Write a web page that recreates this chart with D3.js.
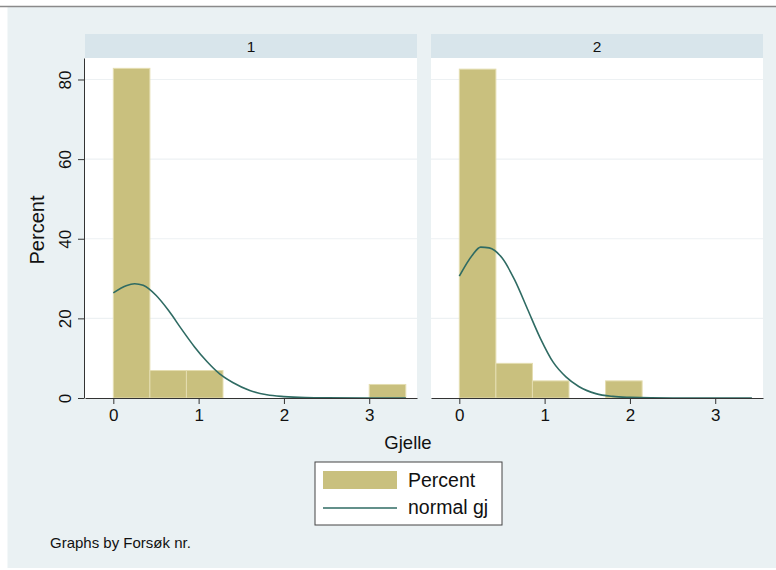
<!DOCTYPE html>
<html>
<head>
<meta charset="utf-8">
<script src="https://cdn.jsdelivr.net/npm/d3@7"></script>
<style>
  body { margin: 0; background: #fff; }
  svg { display: block; font-family: "Liberation Sans", Arial, sans-serif; }
</style>
</head>
<body>
<div id="chart"></div>
<script>
// values
var groups = ["1", "2"];
var binWidth = 0.4286;
var binStart = [0, 0.4286, 0.8571, 1.2857, 1.7143, 2.1429, 2.5714, 3.0];
var pct1 = [82.8, 6.9, 6.9, 0, 0, 0, 0, 3.4];
var pct2 = [82.6, 8.7, 4.3, 0, 4.3, 0, 0, 0];
var curveX = [0, 0.15, 0.25, 0.35, 0.5, 0.65, 0.8, 0.95, 1.1, 1.25, 1.4, 1.6, 1.8, 2.0, 2.25, 2.5, 3.0, 3.43];
var curve1 = [26.4, 28.2, 28.7, 28.3, 25.8, 21.9, 17.3, 12.9, 9.1, 6.0, 3.9, 1.9, 0.8, 0.35, 0.1, 0.03, 0, 0];
var curve2 = [30.6, 35.8, 37.9, 37.7, 35.2, 29.6, 22.3, 15.0, 9.0, 5.3, 2.9, 1.1, 0.4, 0.15, 0.03, 0.01, 0, 0];
var xTicks = [0, 1, 2, 3];
var yTicks = [0, 20, 40, 60, 80];
var yGrid = [20, 40, 60, 80];

var W = 776, H = 570;
var panelW = 332, plotTop = 58, plotBottom = 398;
var panelLeft = [85, 431];

var svg = d3.select("#chart")
	.append("svg")
	.attr("width", W)
	.attr("height", H);

// (bg) outer graph region
svg.append("rect")
	.attr("x", 0).attr("y", 0).attr("width", W).attr("height", H)
	.attr("fill", "#fff");
svg.append("rect")
	.attr("x", 7.5).attr("y", 7).attr("width", W - 7.5).attr("height", 561)
	.attr("fill", "#eaf1f3");
svg.append("line")
	.attr("x1", 0).attr("x2", W).attr("y1", 6.5).attr("y2", 6.5)
	.attr("stroke", "#8a8a8a").attr("stroke-width", 1.5);

var x = d3.scaleLinear().domain([-0.332, 3.56]).range([0, panelW]);
var y = d3.scaleLinear().domain([0, 85.4]).range([plotBottom, plotTop]);

var pctData = [pct1, pct2];
var curveData = [curve1, curve2];

var line = d3.line()
	.x(function(d) { return x(d[0]); })
	.y(function(d) { return Math.min(y(0), y(d[1])); })
	.curve(d3.curveMonotoneX);

groups.forEach(function(g, gi) {
	var p = svg.append("g")
		.attr("transform", "translate(" + panelLeft[gi] + ",0)");

	// (header) by-group label
	p.append("rect")
		.attr("x", 0).attr("y", 34).attr("width", panelW).attr("height", plotTop - 34)
		.attr("fill", "#d8e5eb");
	p.append("text")
		.attr("x", panelW / 2).attr("y", 52)
		.attr("text-anchor", "middle")
		.attr("font-size", "15.5px")
		.attr("fill", "#111")
		.text(g);

	// (plot) white plot region
	p.append("rect")
		.attr("x", 0).attr("y", plotTop).attr("width", panelW).attr("height", plotBottom - plotTop)
		.attr("fill", "#fff");

	p.selectAll(".grid")
		.data(yGrid)
		.enter()
		.append("line")
		.attr("x1", 0).attr("x2", panelW)
		.attr("y1", function(d) { return y(d); })
		.attr("y2", function(d) { return y(d); })
		.attr("stroke", "#edf1f3")
		.attr("stroke-width", 1.2);

	// (bars) histogram
	p.selectAll(".bar")
		.data(pctData[gi].map(function(v, i) { return {x0: binStart[i], v: v}; })
			.filter(function(d) { return d.v > 0; }))
		.enter()
		.append("rect")
		.attr("x", function(d) { return x(d.x0); })
		.attr("width", function(d) { return x(d.x0 + binWidth) - x(d.x0); })
		.attr("y", function(d) { return y(d.v); })
		.attr("height", function(d) { return y(0) - y(d.v); })
		.attr("fill", "#c9c07e")
		.attr("stroke", "#e4ddb0")
		.attr("stroke-width", 1);

	// (curve) normal overlay
	p.append("path")
		.datum(curveX.map(function(v, i) { return [v, curveData[gi][i]]; }))
		.attr("d", line)
		.attr("fill", "none")
		.attr("stroke", "#2f6b63")
		.attr("stroke-width", 1.6);

	// (x axis)
	var xa = p.append("g")
		.attr("transform", "translate(0," + plotBottom + ")")
		.call(d3.axisBottom(x).tickValues(xTicks).tickSize(6).tickSizeOuter(0).tickPadding(5)
			.tickFormat(d3.format("d")));
	xa.attr("font-size", null).attr("font-family", null);
	xa.select(".domain").attr("stroke", "#333");
	xa.selectAll(".tick line").attr("stroke", "#333");
	xa.selectAll("text")
		.style("font-size", "17px")
		.attr("fill", "#111");
});

// (y axis) only on the first panel
var ya = svg.append("g")
	.attr("transform", "translate(84,0)")
	.call(d3.axisLeft(y).tickValues(yTicks).tickSize(6).tickSizeOuter(0));
ya.attr("font-size", null).attr("font-family", null);
ya.select(".domain").attr("stroke", "#333");
ya.selectAll(".tick line").attr("stroke", "#333");
ya.selectAll("text")
	.attr("x", null)
	.attr("dy", null)
	.attr("transform", "translate(-13,0) rotate(-90)")
	.attr("text-anchor", "middle")
	.style("font-size", "17px")
	.attr("fill", "#111");

// (titles)
svg.append("text")
	.attr("transform", "translate(44,230) rotate(-90)")
	.attr("text-anchor", "middle")
	.attr("font-size", "20px")
	.attr("fill", "#111")
	.text("Percent");

svg.append("text")
	.attr("x", 408).attr("y", 449)
	.attr("text-anchor", "middle")
	.attr("font-size", "18.5px")
	.attr("fill", "#111")
	.text("Gjelle");

// (legend)
var lg = svg.append("g");
lg.append("rect")
	.attr("x", 315).attr("y", 462).attr("width", 187).attr("height", 63)
	.attr("fill", "#fff")
	.attr("stroke", "#444")
	.attr("stroke-width", 1);
lg.append("rect")
	.attr("x", 323).attr("y", 471).attr("width", 74).attr("height", 18)
	.attr("fill", "#c9c07e");
lg.append("line")
	.attr("x1", 323).attr("x2", 397).attr("y1", 508).attr("y2", 508)
	.attr("stroke", "#2f6b63").attr("stroke-width", 1.6);
lg.append("text")
	.attr("x", 408).attr("y", 487)
	.attr("font-size", "19.5px")
	.attr("fill", "#111")
	.text("Percent");
lg.append("text")
	.attr("x", 408).attr("y", 514)
	.attr("font-size", "19.5px")
	.attr("fill", "#111")
	.text("normal gj");

svg.append("text")
	.attr("x", 50).attr("y", 547.5)
	.attr("font-size", "15px")
	.attr("fill", "#111")
	.text("Graphs by Forsøk nr.");
</script>
</body>
</html>
